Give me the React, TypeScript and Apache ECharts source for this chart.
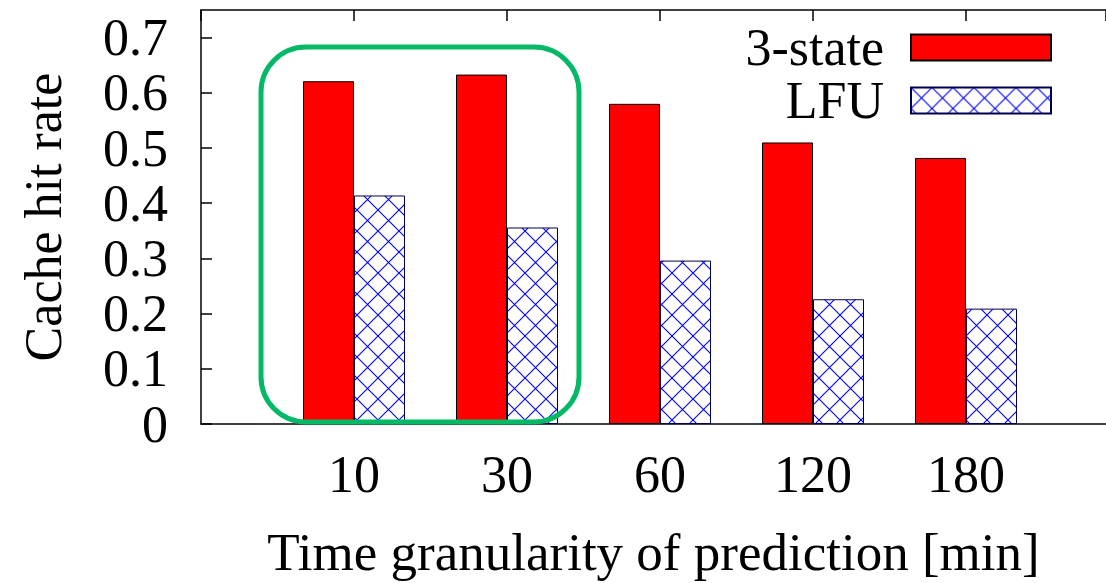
import React, { useEffect, useRef } from "react";
import * as echarts from "echarts";

const categories = ["10", "30", "60", "120", "180"];
const threeState = [0.621, 0.633, 0.58, 0.51, 0.482];
const lfu = [0.414, 0.356, 0.296, 0.226, 0.209];
const yTicks = [0, 0.1, 0.2, 0.3, 0.4, 0.5, 0.6, 0.7];

const FONT = "Liberation Serif";
const FS = 52;
const hatchSvg =
  '<svg xmlns="http://www.w3.org/2000/svg" width="21" height="21">' +
  '<rect width="21" height="21" fill="white"/>' +
  '<path d="M0,0 L21,21 M21,0 L0,21" stroke="#0000ff" stroke-width="1.1" fill="none"/>' +
  "</svg>";
const hatchUrl = "data:image/svg+xml;charset=utf-8," + encodeURIComponent(hatchSvg);

export default function App() {
  const ref = useRef<HTMLDivElement>(null);
  useEffect(() => {
    document.body.style.margin = "0";
    document.body.style.overflow = "hidden";
    document.documentElement.style.overflow = "hidden";
    const chart = echarts.init(ref.current!, undefined, { renderer: "svg" });
    const hatch: any = { image: hatchUrl, repeat: "repeat", imageWidth: 21, imageHeight: 21 };
    const xMax = (1106 - 201) / 153;
    chart.setOption({
      animation: false,
      backgroundColor: "#fff",
      textStyle: { fontFamily: FONT, color: "#000" },
      grid: { left: 201, right: 0, top: 10, bottom: 159, containLabel: false, outerBoundsMode: "none" },
      legend: {
        orient: "vertical",
        right: 49,
        top: 16,
        align: "right",
        icon: "rect",
        itemWidth: 140,
        itemHeight: 26,
        itemGap: 0,
        textStyle: { fontFamily: FONT, fontSize: FS, color: "#000", lineHeight: 53, padding: [0, 22, 0, 0] },
        data: ["3-state", "LFU"],
      },
      xAxis: [
        {
          type: "value",
          min: 0,
          max: xMax,
          interval: 1,
          position: "bottom",
          splitLine: { show: false },
          axisLine: { show: true, lineStyle: { color: "#000", width: 1.5 } },
          axisTick: { show: false },
          axisLabel: {
            fontFamily: FONT,
            fontSize: FS,
            color: "#000",
            margin: 24,
            showMaxLabel: false,
            formatter: (v: number) => (v >= 1 && v <= categories.length ? categories[Math.round(v) - 1] : ""),
          },
          name: "Time granularity of prediction [min]",
          nameLocation: "middle",
          nameGap: 101,
          nameTextStyle: { fontFamily: FONT, fontSize: 53, color: "#000" },
        },
        {
          type: "value",
          min: 0,
          max: xMax,
          interval: 1,
          position: "top",
          splitLine: { show: false },
          axisLine: { show: true, lineStyle: { color: "#000", width: 1.5 } },
          axisTick: {
            show: true,
            inside: true,
            length: 11,
            lineStyle: { color: "#000", width: 1.5 },
            interval: (i: number, v: any) => Number(v) >= 1 && Number(v) <= categories.length,
          },
          axisLabel: { show: false },
        },
      ],
      yAxis: {
        type: "value",
        min: 0,
        max: 0.75,
        interval: 0.1,
        splitLine: { show: false },
        axisLine: { show: true, lineStyle: { color: "#000", width: 1.5 } },
        axisTick: { show: true, inside: true, length: 11, lineStyle: { color: "#000", width: 1.5 } },
        axisLabel: {
          fontFamily: FONT,
          fontSize: FS,
          color: "#000",
          margin: 33,
          showMaxLabel: false,
          formatter: (v: number) => {
            const t = yTicks.find((y) => Math.abs(y - v) < 1e-6);
            return t === undefined ? "" : String(t);
          },
        },
        name: "Cache hit rate",
        nameLocation: "middle",
        nameGap: 132,
        nameRotate: 90,
        nameTextStyle: { fontFamily: FONT, fontSize: FS, color: "#000" },
      },
      series: [
        {
          name: "3-state",
          type: "bar",
          xAxisIndex: 0,
          barWidth: 51,
          barGap: "0%",
          itemStyle: { color: "#ff0000", borderColor: "#000", borderWidth: 1 },
          data: threeState.map((v, i) => [i + 1, v]),
        },
        {
          name: "LFU",
          type: "bar",
          xAxisIndex: 0,
          barWidth: 51,
          barGap: "0%",
          itemStyle: { color: hatch, borderColor: "#000050", borderWidth: 1 },
          data: lfu.map((v, i) => [i + 1, v]),
        },
      ],
      graphic: [
        {
          type: "rect",
          shape: { x: 261, y: 47, width: 318, height: 375, r: 45 },
          style: { fill: "none", stroke: "#03b965", lineWidth: 5 },
          z: 100,
        },
      ],
    });
    return () => chart.dispose();
  }, []);
  return (
    <div
      ref={ref}
      style={{ position: "absolute", left: 0, top: 0, width: 1106, height: 583, overflow: "hidden" }}
    />
  );
}
